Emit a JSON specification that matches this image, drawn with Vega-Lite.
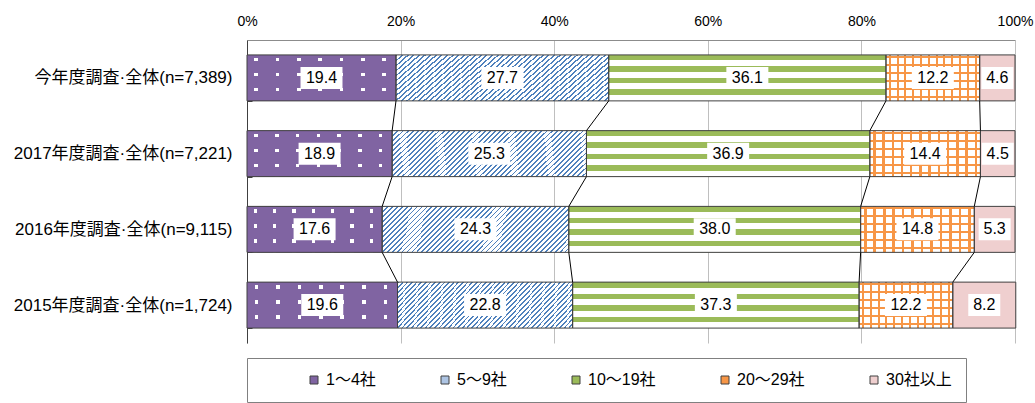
{
  "$schema": "https://vega.github.io/schema/vega-lite/v6.json",
  "width": 768,
  "height": 303,
  "autosize": "none",
  "padding": {"left": 247, "top": 40, "right": 20, "bottom": 60},
  "config": {
    "font": "'Liberation Sans', 'Noto Sans CJK JP', sans-serif",
    "view": {"stroke": null},
    "axis": {"labelColor": "#000000", "title": null},
    "axisX": {
      "title": null, "grid": true, "gridColor": "#bfbfbf", "domainColor": "#8c8c8c",
      "ticks": false, "labelFontSize": 14, "labelPadding": 12, "labelColor": "#000000",
      "labelFlush": false, "labelExpr": "datum.value + '%'"
    },
    "axisY": {
      "title": null, "domainColor": "#404040", "ticks": true, "tickBand": "extent", "tickSize": -5,
      "tickColor": "#404040", "labelFontSize": 17, "labelPadding": 20, "grid": false,
      "labelLimit": 0, "labelColor": "#000000"
    }
  },
  "datasets": {
    "bars": [
      {"row": "今年度調査·全体(n=7,389)", "seg": "1～4社", "k": 1, "v": 19.4},
      {"row": "今年度調査·全体(n=7,389)", "seg": "5～9社", "k": 2, "v": 27.7},
      {"row": "今年度調査·全体(n=7,389)", "seg": "10～19社", "k": 3, "v": 36.1},
      {"row": "今年度調査·全体(n=7,389)", "seg": "20～29社", "k": 4, "v": 12.2},
      {"row": "今年度調査·全体(n=7,389)", "seg": "30社以上", "k": 5, "v": 4.6},
      {"row": "2017年度調査·全体(n=7,221)", "seg": "1～4社", "k": 1, "v": 18.9},
      {"row": "2017年度調査·全体(n=7,221)", "seg": "5～9社", "k": 2, "v": 25.3},
      {"row": "2017年度調査·全体(n=7,221)", "seg": "10～19社", "k": 3, "v": 36.9},
      {"row": "2017年度調査·全体(n=7,221)", "seg": "20～29社", "k": 4, "v": 14.4},
      {"row": "2017年度調査·全体(n=7,221)", "seg": "30社以上", "k": 5, "v": 4.5},
      {"row": "2016年度調査·全体(n=9,115)", "seg": "1～4社", "k": 1, "v": 17.6},
      {"row": "2016年度調査·全体(n=9,115)", "seg": "5～9社", "k": 2, "v": 24.3},
      {"row": "2016年度調査·全体(n=9,115)", "seg": "10～19社", "k": 3, "v": 38.0},
      {"row": "2016年度調査·全体(n=9,115)", "seg": "20～29社", "k": 4, "v": 14.8},
      {"row": "2016年度調査·全体(n=9,115)", "seg": "30社以上", "k": 5, "v": 5.3},
      {"row": "2015年度調査·全体(n=1,724)", "seg": "1～4社", "k": 1, "v": 19.6},
      {"row": "2015年度調査·全体(n=1,724)", "seg": "5～9社", "k": 2, "v": 22.8},
      {"row": "2015年度調査·全体(n=1,724)", "seg": "10～19社", "k": 3, "v": 37.3},
      {"row": "2015年度調査·全体(n=1,724)", "seg": "20～29社", "k": 4, "v": 12.2},
      {"row": "2015年度調査·全体(n=1,724)", "seg": "30社以上", "k": 5, "v": 8.2}
    ],
    "links": [
      {"from": "今年度調査·全体(n=7,389)", "to": "2017年度調査·全体(n=7,221)", "a": 19.4, "b": 18.9},
      {"from": "今年度調査·全体(n=7,389)", "to": "2017年度調査·全体(n=7,221)", "a": 47.1, "b": 44.2},
      {"from": "今年度調査·全体(n=7,389)", "to": "2017年度調査·全体(n=7,221)", "a": 83.2, "b": 81.1},
      {"from": "今年度調査·全体(n=7,389)", "to": "2017年度調査·全体(n=7,221)", "a": 95.4, "b": 95.5},
      {"from": "2017年度調査·全体(n=7,221)", "to": "2016年度調査·全体(n=9,115)", "a": 18.9, "b": 17.6},
      {"from": "2017年度調査·全体(n=7,221)", "to": "2016年度調査·全体(n=9,115)", "a": 44.2, "b": 41.9},
      {"from": "2017年度調査·全体(n=7,221)", "to": "2016年度調査·全体(n=9,115)", "a": 81.1, "b": 79.9},
      {"from": "2017年度調査·全体(n=7,221)", "to": "2016年度調査·全体(n=9,115)", "a": 95.5, "b": 94.7},
      {"from": "2016年度調査·全体(n=9,115)", "to": "2015年度調査·全体(n=1,724)", "a": 17.6, "b": 19.6},
      {"from": "2016年度調査·全体(n=9,115)", "to": "2015年度調査·全体(n=1,724)", "a": 41.9, "b": 42.4},
      {"from": "2016年度調査·全体(n=9,115)", "to": "2015年度調査·全体(n=1,724)", "a": 79.9, "b": 79.7},
      {"from": "2016年度調査·全体(n=9,115)", "to": "2015年度調査·全体(n=1,724)", "a": 94.7, "b": 91.9}
    ]
  },
  "layer": [
    {
      "data": {"name": "bars"},
      "transform": [
        {"stack": "v", "groupby": ["row"], "sort": [{"field": "k", "order": "ascending"}], "as": ["x0", "x1"]},
        {"calculate": "(datum.x0 + datum.x1) / 2", "as": "xm"}
      ],
      "encoding": {
        "y": {
          "field": "row", "type": "nominal", "sort": null, "title": null,
          "scale": {
            "domain": ["今年度調査·全体(n=7,389)", "2017年度調査·全体(n=7,221)", "2016年度調査·全体(n=9,115)", "2015年度調査·全体(n=1,724)"],
            "paddingInner": 0.393, "paddingOuter": 0.197
          }
        }
      },
      "layer": [
        {
          "mark": {"type": "bar"},
          "encoding": {
            "x": {
              "field": "x0", "type": "quantitative", "title": null, "scale": {"domain": [0, 100], "nice": false},
              "axis": {"orient": "top", "values": [0, 20, 40, 60, 80, 100], "labelFontSize": 14, "labelFlush": false}
            },
            "x2": {"field": "x1"},
            "color": {
              "field": "seg", "type": "nominal",
              "scale": {
                "domain": ["1～4社", "5～9社", "10～19社", "20～29社", "30社以上"],
                "range": ["#8064A2", "#adc4e3", "#9BBB59", "#F79646", "#efcfcf"]
              },
              "legend": {
                "orient": "none", "legendX": 0, "legendY": 318, "direction": "horizontal",
                "columns": 5, "columnPadding": 61, "padding": 14, "strokeColor": "#808080",
                "title": " ", "titleOrient": "left", "titlePadding": 45, "titleFontSize": 10,
                "symbolType": "square", "symbolSize": 64, "symbolStrokeColor": "#404040",
                "symbolStrokeWidth": 1, "symbolOpacity": 1, "labelFontSize": 16, "labelOffset": 4,
                "labelColor": "#000000"
              }
            }
          }
        },
        {
          "transform": [{"filter": "datum.seg == '1～4社'"}],
          "mark": {
            "type": "bar",
            "fill": {
              "gradient": "linear", "x1": 0, "y1": 0, "x2": 0, "y2": 1,
              "stops": [
                {"offset": 0, "color": "#8064A2"},
                {"offset": 0.065, "color": "#8064A2"}, {"offset": 0.065, "color": "#ffffff"}, {"offset": 0.141, "color": "#ffffff"}, {"offset": 0.141, "color": "#8064A2"},
                {"offset": 0.391, "color": "#8064A2"}, {"offset": 0.391, "color": "#ffffff"}, {"offset": 0.467, "color": "#ffffff"}, {"offset": 0.467, "color": "#8064A2"},
                {"offset": 0.717, "color": "#8064A2"}, {"offset": 0.717, "color": "#ffffff"}, {"offset": 0.793, "color": "#ffffff"}, {"offset": 0.793, "color": "#8064A2"},
                {"offset": 1, "color": "#8064A2"}
              ]
            }
          },
          "encoding": {
            "x": {"field": "x0", "type": "quantitative", "title": null},
            "x2": {"field": "x1"}
          }
        },
        {
          "transform": [{"filter": "datum.seg == '1～4社'"}],
          "mark": {
            "type": "bar",
            "fill": {
              "gradient": "linear", "x1": 0, "y1": 0, "x2": 1, "y2": 0,
              "stops": [
                {"offset": 0, "color": "#8064A2"},
                {"offset": 0.05, "color": "#8064A2"}, {"offset": 0.05, "color": "rgba(128,100,162,0)"}, {"offset": 0.075, "color": "rgba(128,100,162,0)"}, {"offset": 0.075, "color": "#8064A2"},
                {"offset": 0.193, "color": "#8064A2"}, {"offset": 0.193, "color": "rgba(128,100,162,0)"}, {"offset": 0.218, "color": "rgba(128,100,162,0)"}, {"offset": 0.218, "color": "#8064A2"},
                {"offset": 0.336, "color": "#8064A2"}, {"offset": 0.336, "color": "rgba(128,100,162,0)"}, {"offset": 0.361, "color": "rgba(128,100,162,0)"}, {"offset": 0.361, "color": "#8064A2"},
                {"offset": 0.479, "color": "#8064A2"}, {"offset": 0.479, "color": "rgba(128,100,162,0)"}, {"offset": 0.504, "color": "rgba(128,100,162,0)"}, {"offset": 0.504, "color": "#8064A2"},
                {"offset": 0.621, "color": "#8064A2"}, {"offset": 0.621, "color": "rgba(128,100,162,0)"}, {"offset": 0.646, "color": "rgba(128,100,162,0)"}, {"offset": 0.646, "color": "#8064A2"},
                {"offset": 0.764, "color": "#8064A2"}, {"offset": 0.764, "color": "rgba(128,100,162,0)"}, {"offset": 0.789, "color": "rgba(128,100,162,0)"}, {"offset": 0.789, "color": "#8064A2"},
                {"offset": 0.907, "color": "#8064A2"}, {"offset": 0.907, "color": "rgba(128,100,162,0)"}, {"offset": 0.932, "color": "rgba(128,100,162,0)"}, {"offset": 0.932, "color": "#8064A2"},
                {"offset": 1, "color": "#8064A2"}
              ]
            }
          },
          "encoding": {
            "x": {"field": "x0", "type": "quantitative", "title": null},
            "x2": {"field": "x1"}
          }
        },
        {
          "transform": [{"filter": "datum.seg == '5～9社'"}],
          "mark": {
            "type": "bar",
            "fill": {
              "gradient": "linear", "x1": 0, "y1": 0, "x2": 1.174, "y2": 0.2864,
              "stops": [
                {"offset": 0, "color": "#4F81BD"}, {"offset": 0.0077, "color": "#4F81BD"}, {"offset": 0.0077, "color": "#ffffff"},
                {"offset": 0.0213, "color": "#ffffff"}, {"offset": 0.0213, "color": "#4F81BD"}, {"offset": 0.0290, "color": "#4F81BD"}, {"offset": 0.0290, "color": "#ffffff"},
                {"offset": 0.0426, "color": "#ffffff"}, {"offset": 0.0426, "color": "#4F81BD"}, {"offset": 0.0503, "color": "#4F81BD"}, {"offset": 0.0503, "color": "#ffffff"},
                {"offset": 0.0638, "color": "#ffffff"}, {"offset": 0.0638, "color": "#4F81BD"}, {"offset": 0.0715, "color": "#4F81BD"}, {"offset": 0.0715, "color": "#ffffff"},
                {"offset": 0.0851, "color": "#ffffff"}, {"offset": 0.0851, "color": "#4F81BD"}, {"offset": 0.0928, "color": "#4F81BD"}, {"offset": 0.0928, "color": "#ffffff"},
                {"offset": 0.1064, "color": "#ffffff"}, {"offset": 0.1064, "color": "#4F81BD"}, {"offset": 0.1141, "color": "#4F81BD"}, {"offset": 0.1141, "color": "#ffffff"},
                {"offset": 0.1277, "color": "#ffffff"}, {"offset": 0.1277, "color": "#4F81BD"}, {"offset": 0.1354, "color": "#4F81BD"}, {"offset": 0.1354, "color": "#ffffff"},
                {"offset": 0.1489, "color": "#ffffff"}, {"offset": 0.1489, "color": "#4F81BD"}, {"offset": 0.1566, "color": "#4F81BD"}, {"offset": 0.1566, "color": "#ffffff"},
                {"offset": 0.1702, "color": "#ffffff"}, {"offset": 0.1702, "color": "#4F81BD"}, {"offset": 0.1779, "color": "#4F81BD"}, {"offset": 0.1779, "color": "#ffffff"},
                {"offset": 0.1915, "color": "#ffffff"}, {"offset": 0.1915, "color": "#4F81BD"}, {"offset": 0.1992, "color": "#4F81BD"}, {"offset": 0.1992, "color": "#ffffff"},
                {"offset": 0.2128, "color": "#ffffff"}, {"offset": 0.2128, "color": "#4F81BD"}, {"offset": 0.2205, "color": "#4F81BD"}, {"offset": 0.2205, "color": "#ffffff"},
                {"offset": 0.2340, "color": "#ffffff"}, {"offset": 0.2340, "color": "#4F81BD"}, {"offset": 0.2417, "color": "#4F81BD"}, {"offset": 0.2417, "color": "#ffffff"},
                {"offset": 0.2553, "color": "#ffffff"}, {"offset": 0.2553, "color": "#4F81BD"}, {"offset": 0.2630, "color": "#4F81BD"}, {"offset": 0.2630, "color": "#ffffff"},
                {"offset": 0.2766, "color": "#ffffff"}, {"offset": 0.2766, "color": "#4F81BD"}, {"offset": 0.2843, "color": "#4F81BD"}, {"offset": 0.2843, "color": "#ffffff"},
                {"offset": 0.2979, "color": "#ffffff"}, {"offset": 0.2979, "color": "#4F81BD"}, {"offset": 0.3056, "color": "#4F81BD"}, {"offset": 0.3056, "color": "#ffffff"},
                {"offset": 0.3191, "color": "#ffffff"}, {"offset": 0.3191, "color": "#4F81BD"}, {"offset": 0.3268, "color": "#4F81BD"}, {"offset": 0.3268, "color": "#ffffff"},
                {"offset": 0.3404, "color": "#ffffff"}, {"offset": 0.3404, "color": "#4F81BD"}, {"offset": 0.3481, "color": "#4F81BD"}, {"offset": 0.3481, "color": "#ffffff"},
                {"offset": 0.3617, "color": "#ffffff"}, {"offset": 0.3617, "color": "#4F81BD"}, {"offset": 0.3694, "color": "#4F81BD"}, {"offset": 0.3694, "color": "#ffffff"},
                {"offset": 0.3830, "color": "#ffffff"}, {"offset": 0.3830, "color": "#4F81BD"}, {"offset": 0.3907, "color": "#4F81BD"}, {"offset": 0.3907, "color": "#ffffff"},
                {"offset": 0.4043, "color": "#ffffff"}, {"offset": 0.4043, "color": "#4F81BD"}, {"offset": 0.4120, "color": "#4F81BD"}, {"offset": 0.4120, "color": "#ffffff"},
                {"offset": 0.4255, "color": "#ffffff"}, {"offset": 0.4255, "color": "#4F81BD"}, {"offset": 0.4332, "color": "#4F81BD"}, {"offset": 0.4332, "color": "#ffffff"},
                {"offset": 0.4468, "color": "#ffffff"}, {"offset": 0.4468, "color": "#4F81BD"}, {"offset": 0.4545, "color": "#4F81BD"}, {"offset": 0.4545, "color": "#ffffff"},
                {"offset": 0.4681, "color": "#ffffff"}, {"offset": 0.4681, "color": "#4F81BD"}, {"offset": 0.4758, "color": "#4F81BD"}, {"offset": 0.4758, "color": "#ffffff"},
                {"offset": 0.4894, "color": "#ffffff"}, {"offset": 0.4894, "color": "#4F81BD"}, {"offset": 0.4971, "color": "#4F81BD"}, {"offset": 0.4971, "color": "#ffffff"},
                {"offset": 0.5106, "color": "#ffffff"}, {"offset": 0.5106, "color": "#4F81BD"}, {"offset": 0.5183, "color": "#4F81BD"}, {"offset": 0.5183, "color": "#ffffff"},
                {"offset": 0.5319, "color": "#ffffff"}, {"offset": 0.5319, "color": "#4F81BD"}, {"offset": 0.5396, "color": "#4F81BD"}, {"offset": 0.5396, "color": "#ffffff"},
                {"offset": 0.5532, "color": "#ffffff"}, {"offset": 0.5532, "color": "#4F81BD"}, {"offset": 0.5609, "color": "#4F81BD"}, {"offset": 0.5609, "color": "#ffffff"},
                {"offset": 0.5745, "color": "#ffffff"}, {"offset": 0.5745, "color": "#4F81BD"}, {"offset": 0.5822, "color": "#4F81BD"}, {"offset": 0.5822, "color": "#ffffff"},
                {"offset": 0.5957, "color": "#ffffff"}, {"offset": 0.5957, "color": "#4F81BD"}, {"offset": 0.6034, "color": "#4F81BD"}, {"offset": 0.6034, "color": "#ffffff"},
                {"offset": 0.6170, "color": "#ffffff"}, {"offset": 0.6170, "color": "#4F81BD"}, {"offset": 0.6247, "color": "#4F81BD"}, {"offset": 0.6247, "color": "#ffffff"},
                {"offset": 0.6383, "color": "#ffffff"}, {"offset": 0.6383, "color": "#4F81BD"}, {"offset": 0.6460, "color": "#4F81BD"}, {"offset": 0.6460, "color": "#ffffff"},
                {"offset": 0.6596, "color": "#ffffff"}, {"offset": 0.6596, "color": "#4F81BD"}, {"offset": 0.6673, "color": "#4F81BD"}, {"offset": 0.6673, "color": "#ffffff"},
                {"offset": 0.6809, "color": "#ffffff"}, {"offset": 0.6809, "color": "#4F81BD"}, {"offset": 0.6886, "color": "#4F81BD"}, {"offset": 0.6886, "color": "#ffffff"},
                {"offset": 0.7021, "color": "#ffffff"}, {"offset": 0.7021, "color": "#4F81BD"}, {"offset": 0.7098, "color": "#4F81BD"}, {"offset": 0.7098, "color": "#ffffff"},
                {"offset": 0.7234, "color": "#ffffff"}, {"offset": 0.7234, "color": "#4F81BD"}, {"offset": 0.7311, "color": "#4F81BD"}, {"offset": 0.7311, "color": "#ffffff"},
                {"offset": 0.7447, "color": "#ffffff"}, {"offset": 0.7447, "color": "#4F81BD"}, {"offset": 0.7524, "color": "#4F81BD"}, {"offset": 0.7524, "color": "#ffffff"},
                {"offset": 0.7660, "color": "#ffffff"}, {"offset": 0.7660, "color": "#4F81BD"}, {"offset": 0.7737, "color": "#4F81BD"}, {"offset": 0.7737, "color": "#ffffff"},
                {"offset": 0.7872, "color": "#ffffff"}, {"offset": 0.7872, "color": "#4F81BD"}, {"offset": 0.7949, "color": "#4F81BD"}, {"offset": 0.7949, "color": "#ffffff"},
                {"offset": 0.8085, "color": "#ffffff"}, {"offset": 0.8085, "color": "#4F81BD"}, {"offset": 0.8162, "color": "#4F81BD"}, {"offset": 0.8162, "color": "#ffffff"},
                {"offset": 0.8298, "color": "#ffffff"}, {"offset": 0.8298, "color": "#4F81BD"}, {"offset": 0.8375, "color": "#4F81BD"}, {"offset": 0.8375, "color": "#ffffff"},
                {"offset": 0.8511, "color": "#ffffff"}, {"offset": 0.8511, "color": "#4F81BD"}, {"offset": 0.8588, "color": "#4F81BD"}, {"offset": 0.8588, "color": "#ffffff"},
                {"offset": 0.8723, "color": "#ffffff"}, {"offset": 0.8723, "color": "#4F81BD"}, {"offset": 0.8800, "color": "#4F81BD"}, {"offset": 0.8800, "color": "#ffffff"},
                {"offset": 0.8936, "color": "#ffffff"}, {"offset": 0.8936, "color": "#4F81BD"}, {"offset": 0.9013, "color": "#4F81BD"}, {"offset": 0.9013, "color": "#ffffff"},
                {"offset": 0.9149, "color": "#ffffff"}, {"offset": 0.9149, "color": "#4F81BD"}, {"offset": 0.9226, "color": "#4F81BD"}, {"offset": 0.9226, "color": "#ffffff"},
                {"offset": 0.9362, "color": "#ffffff"}, {"offset": 0.9362, "color": "#4F81BD"}, {"offset": 0.9439, "color": "#4F81BD"}, {"offset": 0.9439, "color": "#ffffff"},
                {"offset": 0.9574, "color": "#ffffff"}, {"offset": 0.9574, "color": "#4F81BD"}, {"offset": 0.9651, "color": "#4F81BD"}, {"offset": 0.9651, "color": "#ffffff"},
                {"offset": 0.9787, "color": "#ffffff"}, {"offset": 0.9787, "color": "#4F81BD"}, {"offset": 0.9864, "color": "#4F81BD"}, {"offset": 0.9864, "color": "#ffffff"},
                {"offset": 1, "color": "#ffffff"}
              ]
            }
          },
          "encoding": {
            "x": {"field": "x0", "type": "quantitative", "title": null},
            "x2": {"field": "x1"}
          }
        },
        {
          "transform": [{"filter": "datum.seg == '10～19社'"}],
          "mark": {
            "type": "bar",
            "fill": {
              "gradient": "linear", "x1": 0, "y1": 0, "x2": 0, "y2": 1,
              "stops": [
                {"offset": 0, "color": "#9BBB59"}, {"offset": 0.12, "color": "#9BBB59"},
                {"offset": 0.12, "color": "#ffffff"}, {"offset": 0.25, "color": "#ffffff"},
                {"offset": 0.25, "color": "#9BBB59"}, {"offset": 0.37, "color": "#9BBB59"},
                {"offset": 0.37, "color": "#ffffff"}, {"offset": 0.5, "color": "#ffffff"},
                {"offset": 0.5, "color": "#9BBB59"}, {"offset": 0.62, "color": "#9BBB59"},
                {"offset": 0.62, "color": "#ffffff"}, {"offset": 0.75, "color": "#ffffff"},
                {"offset": 0.75, "color": "#9BBB59"}, {"offset": 0.87, "color": "#9BBB59"},
                {"offset": 0.87, "color": "#ffffff"}, {"offset": 1, "color": "#ffffff"}
              ]
            }
          },
          "encoding": {
            "x": {"field": "x0", "type": "quantitative", "title": null},
            "x2": {"field": "x1"}
          }
        },
        {
          "transform": [{"filter": "datum.seg == '20～29社'"}],
          "mark": {
            "type": "bar",
            "fill": {
              "gradient": "linear", "x1": 0, "y1": 0, "x2": 0, "y2": 1,
              "stops": [
                {"offset": 0, "color": "#ffffff"},
                {"offset": 0.022, "color": "#ffffff"}, {"offset": 0.022, "color": "#F79646"}, {"offset": 0.065, "color": "#F79646"}, {"offset": 0.065, "color": "#ffffff"},
                {"offset": 0.196, "color": "#ffffff"}, {"offset": 0.196, "color": "#F79646"}, {"offset": 0.239, "color": "#F79646"}, {"offset": 0.239, "color": "#ffffff"},
                {"offset": 0.37, "color": "#ffffff"}, {"offset": 0.37, "color": "#F79646"}, {"offset": 0.413, "color": "#F79646"}, {"offset": 0.413, "color": "#ffffff"},
                {"offset": 0.543, "color": "#ffffff"}, {"offset": 0.543, "color": "#F79646"}, {"offset": 0.587, "color": "#F79646"}, {"offset": 0.587, "color": "#ffffff"},
                {"offset": 0.717, "color": "#ffffff"}, {"offset": 0.717, "color": "#F79646"}, {"offset": 0.761, "color": "#F79646"}, {"offset": 0.761, "color": "#ffffff"},
                {"offset": 0.891, "color": "#ffffff"}, {"offset": 0.891, "color": "#F79646"}, {"offset": 0.935, "color": "#F79646"}, {"offset": 0.935, "color": "#ffffff"},
                {"offset": 1, "color": "#ffffff"}
              ]
            }
          },
          "encoding": {
            "x": {"field": "x0", "type": "quantitative", "title": null},
            "x2": {"field": "x1"}
          }
        },
        {
          "transform": [{"filter": "datum.seg == '20～29社'"}],
          "mark": {
            "type": "bar",
            "fill": {
              "gradient": "linear", "x1": 0, "y1": 0, "x2": 1, "y2": 0,
              "stops": [
                {"offset": 0, "color": "rgba(247,150,70,0)"},
                {"offset": 0.03, "color": "rgba(247,150,70,0)"}, {"offset": 0.03, "color": "#F79646"}, {"offset": 0.052, "color": "#F79646"}, {"offset": 0.052, "color": "rgba(247,150,70,0)"},
                {"offset": 0.113, "color": "rgba(247,150,70,0)"}, {"offset": 0.113, "color": "#F79646"}, {"offset": 0.135, "color": "#F79646"}, {"offset": 0.135, "color": "rgba(247,150,70,0)"},
                {"offset": 0.197, "color": "rgba(247,150,70,0)"}, {"offset": 0.197, "color": "#F79646"}, {"offset": 0.219, "color": "#F79646"}, {"offset": 0.219, "color": "rgba(247,150,70,0)"},
                {"offset": 0.28, "color": "rgba(247,150,70,0)"}, {"offset": 0.28, "color": "#F79646"}, {"offset": 0.302, "color": "#F79646"}, {"offset": 0.302, "color": "rgba(247,150,70,0)"},
                {"offset": 0.363, "color": "rgba(247,150,70,0)"}, {"offset": 0.363, "color": "#F79646"}, {"offset": 0.385, "color": "#F79646"}, {"offset": 0.385, "color": "rgba(247,150,70,0)"},
                {"offset": 0.447, "color": "rgba(247,150,70,0)"}, {"offset": 0.447, "color": "#F79646"}, {"offset": 0.469, "color": "#F79646"}, {"offset": 0.469, "color": "rgba(247,150,70,0)"},
                {"offset": 0.53, "color": "rgba(247,150,70,0)"}, {"offset": 0.53, "color": "#F79646"}, {"offset": 0.552, "color": "#F79646"}, {"offset": 0.552, "color": "rgba(247,150,70,0)"},
                {"offset": 0.613, "color": "rgba(247,150,70,0)"}, {"offset": 0.613, "color": "#F79646"}, {"offset": 0.635, "color": "#F79646"}, {"offset": 0.635, "color": "rgba(247,150,70,0)"},
                {"offset": 0.697, "color": "rgba(247,150,70,0)"}, {"offset": 0.697, "color": "#F79646"}, {"offset": 0.719, "color": "#F79646"}, {"offset": 0.719, "color": "rgba(247,150,70,0)"},
                {"offset": 0.78, "color": "rgba(247,150,70,0)"}, {"offset": 0.78, "color": "#F79646"}, {"offset": 0.802, "color": "#F79646"}, {"offset": 0.802, "color": "rgba(247,150,70,0)"},
                {"offset": 0.863, "color": "rgba(247,150,70,0)"}, {"offset": 0.863, "color": "#F79646"}, {"offset": 0.885, "color": "#F79646"}, {"offset": 0.885, "color": "rgba(247,150,70,0)"},
                {"offset": 0.947, "color": "rgba(247,150,70,0)"}, {"offset": 0.947, "color": "#F79646"}, {"offset": 0.969, "color": "#F79646"}, {"offset": 0.969, "color": "rgba(247,150,70,0)"},
                {"offset": 1, "color": "rgba(247,150,70,0)"}
              ]
            }
          },
          "encoding": {
            "x": {"field": "x0", "type": "quantitative", "title": null},
            "x2": {"field": "x1"}
          }
        },
        {
          "mark": {"type": "bar", "fillOpacity": 0, "stroke": "#404040", "strokeWidth": 1},
          "encoding": {
            "x": {"field": "x0", "type": "quantitative", "title": null},
            "x2": {"field": "x1"}
          }
        },
        {
          "transform": [{"filter": "datum.v >= 10"}],
          "mark": {"type": "point", "shape": "M-1,-0.524H1V0.524H-1Z", "size": 1764, "filled": true, "fill": "#ffffff", "opacity": 1, "strokeWidth": 0},
          "encoding": {
            "x": {"field": "xm", "type": "quantitative", "title": null}
          }
        },
        {
          "transform": [{"filter": "datum.v < 10"}],
          "mark": {"type": "point", "shape": "M-1,-0.6875H1V0.6875H-1Z", "size": 1024, "filled": true, "fill": "#ffffff", "opacity": 1, "strokeWidth": 0},
          "encoding": {
            "x": {"field": "xm", "type": "quantitative", "title": null}
          }
        },
        {
          "mark": {"type": "text", "fontSize": 16, "color": "#000000", "align": "center", "baseline": "middle"},
          "encoding": {
            "x": {"field": "xm", "type": "quantitative", "title": null},
            "text": {"field": "v", "type": "quantitative", "format": ".1f"}
          }
        }
      ]
    },
    {
      "data": {"name": "links"},
      "mark": {"type": "rule", "color": "#000000", "strokeWidth": 1},
      "encoding": {
        "x": {"field": "a", "type": "quantitative", "title": null},
        "x2": {"field": "b"},
        "y": {
          "field": "from", "type": "nominal", "bandPosition": 1, "sort": null, "title": null,
          "scale": {"domain": ["今年度調査·全体(n=7,389)", "2017年度調査·全体(n=7,221)", "2016年度調査·全体(n=9,115)", "2015年度調査·全体(n=1,724)"]}
        },
        "y2": {"field": "to", "bandPosition": 0}
      }
    }
  ]
}
